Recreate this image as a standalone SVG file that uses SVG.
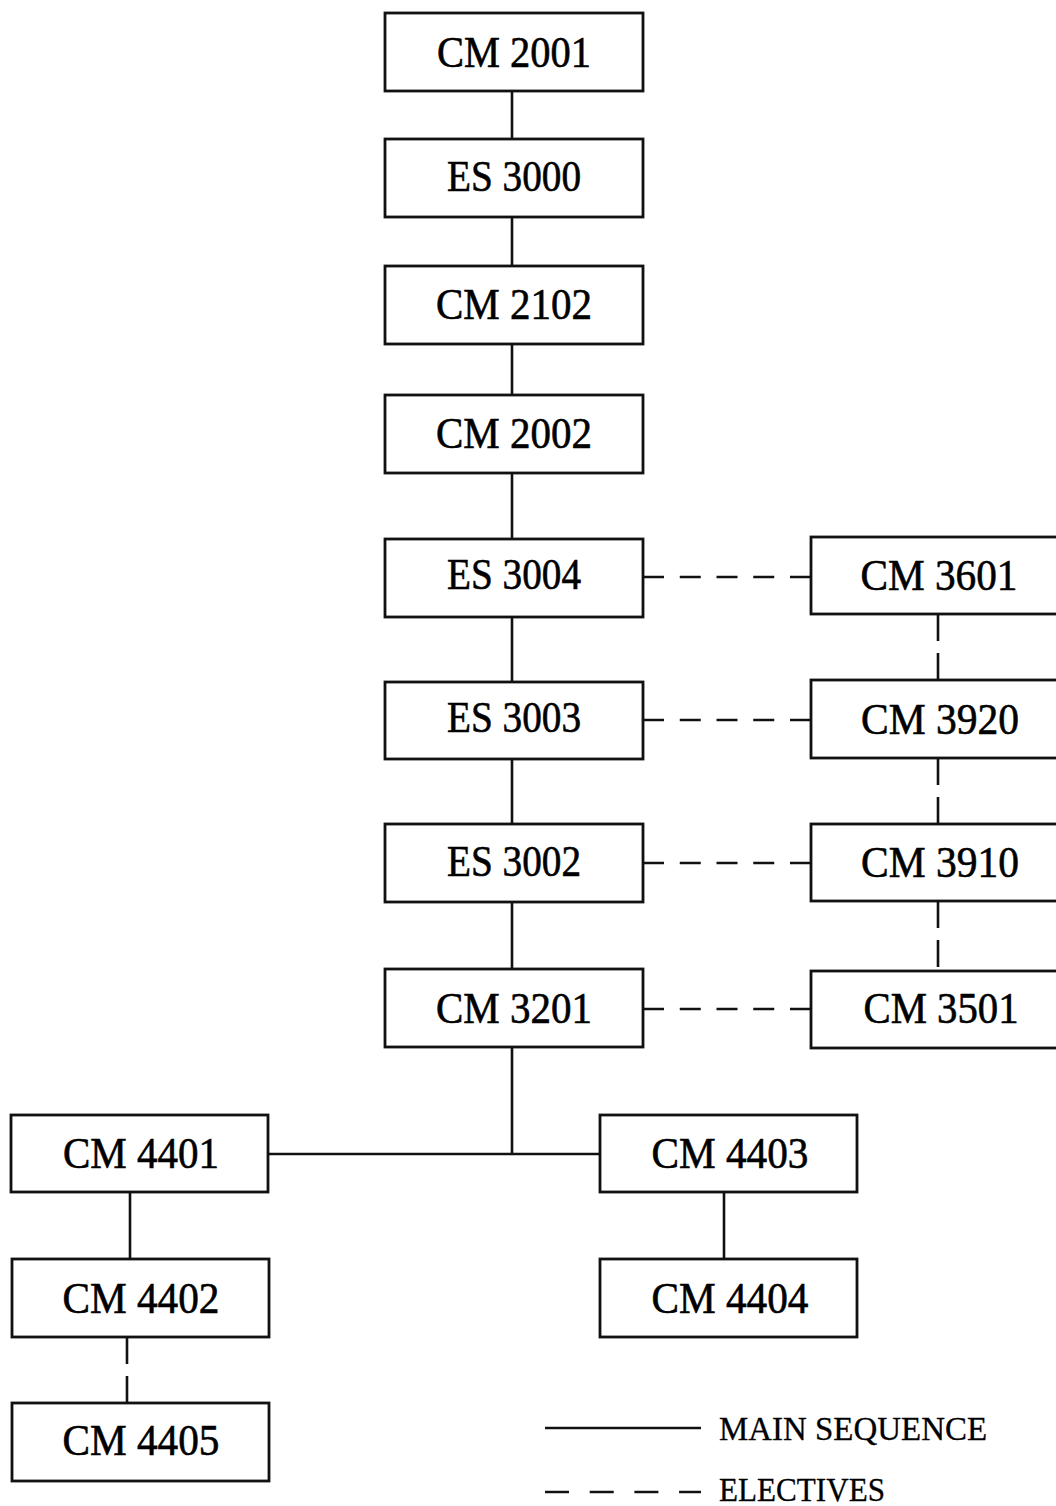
<svg xmlns="http://www.w3.org/2000/svg" width="1056" height="1506" viewBox="0 0 1056 1506">
<style>
.box rect{fill:#fff;stroke:#111;stroke-width:2.8}
.box text{font-family:"Liberation Serif","Times New Roman",serif;font-size:44px;fill:#000;stroke:#000;stroke-width:0.6;text-anchor:middle}
.ln{stroke:#111;stroke-width:2.6;fill:none}
.ds{stroke:#111;stroke-width:2.6;fill:none;stroke-dasharray:21 15.75}
.dv{stroke:#111;stroke-width:2.6;fill:none;stroke-dasharray:27 12}
.lg{font-family:"Liberation Serif","Times New Roman",serif;font-size:33px;fill:#000;stroke:#000;stroke-width:0.3}
</style>
<rect width="1056" height="1506" fill="#fff"/>
<g id="connectors">
<path class="ln" d="M512 91V1154M268 1154H600M130 1192V1259M724 1192V1259"/>
<path class="dv" d="M127 1337V1403M938 614V680M938 758V824M938 901V971"/>
<path class="ds" d="M643 577H811M643 720H811M643 863H811M643 1009H811"/>
</g>
<g id="cm2001" class="box"><rect x="385" y="13" width="258" height="78"/><text x="514" y="67" textLength="154" lengthAdjust="spacingAndGlyphs">CM 2001</text></g>
<g id="es3000" class="box"><rect x="385" y="139" width="258" height="78"/><text x="514" y="191" textLength="134" lengthAdjust="spacingAndGlyphs">ES 3000</text></g>
<g id="cm2102" class="box"><rect x="385" y="266" width="258" height="78"/><text x="514" y="319" textLength="156" lengthAdjust="spacingAndGlyphs">CM 2102</text></g>
<g id="cm2002" class="box"><rect x="385" y="395" width="258" height="78"/><text x="514" y="448" textLength="156" lengthAdjust="spacingAndGlyphs">CM 2002</text></g>
<g id="es3004" class="box"><rect x="385" y="539" width="258" height="78"/><text x="514" y="589" textLength="134" lengthAdjust="spacingAndGlyphs">ES 3004</text></g>
<g id="es3003" class="box"><rect x="385" y="682" width="258" height="77"/><text x="514" y="732" textLength="134" lengthAdjust="spacingAndGlyphs">ES 3003</text></g>
<g id="es3002" class="box"><rect x="385" y="824" width="258" height="78"/><text x="514" y="876" textLength="134" lengthAdjust="spacingAndGlyphs">ES 3002</text></g>
<g id="cm3201" class="box"><rect x="385" y="969" width="258" height="78"/><text x="514" y="1023" textLength="156" lengthAdjust="spacingAndGlyphs">CM 3201</text></g>
<g id="cm3601" class="box"><rect x="811" y="537" width="258" height="77"/><text x="939" y="590" textLength="157" lengthAdjust="spacingAndGlyphs">CM 3601</text></g>
<g id="cm3920" class="box"><rect x="811" y="680" width="258" height="78"/><text x="940" y="734" textLength="158" lengthAdjust="spacingAndGlyphs">CM 3920</text></g>
<g id="cm3910" class="box"><rect x="811" y="824" width="258" height="77"/><text x="940" y="877" textLength="158" lengthAdjust="spacingAndGlyphs">CM 3910</text></g>
<g id="cm3501" class="box"><rect x="811" y="971" width="258" height="77"/><text x="941" y="1023" textLength="155" lengthAdjust="spacingAndGlyphs">CM 3501</text></g>
<g id="cm4401" class="box"><rect x="11" y="1115" width="257" height="77"/><text x="141" y="1168" textLength="156" lengthAdjust="spacingAndGlyphs">CM 4401</text></g>
<g id="cm4403" class="box"><rect x="600" y="1115" width="257" height="77"/><text x="730" y="1168" textLength="157" lengthAdjust="spacingAndGlyphs">CM 4403</text></g>
<g id="cm4402" class="box"><rect x="12" y="1259" width="257" height="78"/><text x="141" y="1313" textLength="157" lengthAdjust="spacingAndGlyphs">CM 4402</text></g>
<g id="cm4404" class="box"><rect x="600" y="1259" width="257" height="78"/><text x="730" y="1313" textLength="157" lengthAdjust="spacingAndGlyphs">CM 4404</text></g>
<g id="cm4405" class="box"><rect x="12" y="1403" width="257" height="78"/><text x="141" y="1455" textLength="157" lengthAdjust="spacingAndGlyphs">CM 4405</text></g>
<g id="legend">
<path class="ln" d="M545 1428H701"/>
<path class="ln" d="M545 1492H701" stroke-dasharray="24 20.7"/>
<text class="lg" x="719" y="1440" textLength="268" lengthAdjust="spacingAndGlyphs">MAIN SEQUENCE</text>
<text class="lg" x="719" y="1501" textLength="166" lengthAdjust="spacingAndGlyphs">ELECTIVES</text>
</g>
</svg>
